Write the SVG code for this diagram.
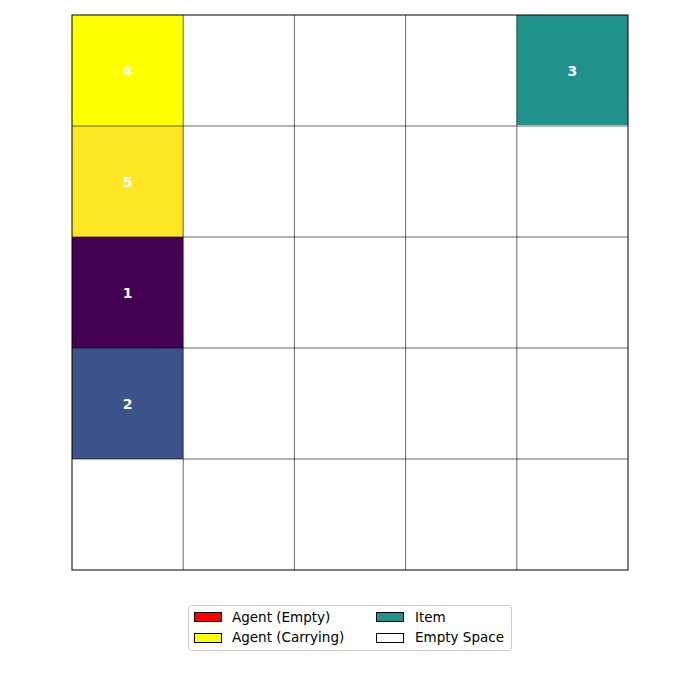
<svg xmlns="http://www.w3.org/2000/svg" width="700" height="700" viewBox="0 0 700 700">
<style>
.grid{stroke:#000;stroke-width:0.6;fill:none}
.lbl{font-family:"DejaVu Sans",sans-serif;font-size:14px;font-weight:bold;fill:#fff;text-anchor:middle;dominant-baseline:central}
.lg{font-family:"DejaVu Sans",sans-serif;font-size:13.5px;fill:#000}
.patch{stroke:#000;stroke-width:1}
</style>
<rect width="700" height="700" fill="#fff"/>
<g id="cell-4"><rect x="72" y="15" width="111.2" height="111" fill="#ffff00"/><text class="lbl" x="127.6" y="70.5">4</text></g>
<g id="cell-5"><rect x="72" y="126" width="111.2" height="111" fill="#fde725"/><text class="lbl" x="127.6" y="181.5">5</text></g>
<g id="cell-1"><rect x="72" y="237" width="111.2" height="111" fill="#440154"/><text class="lbl" x="127.6" y="292.5">1</text></g>
<g id="cell-2"><rect x="72" y="348" width="111.2" height="111" fill="#3b528b"/><text class="lbl" x="127.6" y="403.5">2</text></g>
<g id="cell-3"><rect x="516.8" y="15" width="111.2" height="110" fill="#21918c"/><text class="lbl" x="572.4" y="70.5">3</text></g>
<g id="grid">
<path class="grid" d="M183.2 15V570M294.4 15V570M405.6 15V570M516.8 15V570M72 126H628M72 237H628M72 348H628M72 459H628"/>
<rect x="72" y="15" width="556" height="555" fill="none" stroke="#000" stroke-width="1"/>
</g>
<g id="legend">
<rect x="188.5" y="605.5" width="323" height="45" rx="3" fill="#fff" stroke="#ccc" stroke-width="1"/>
<rect class="patch" x="194.5" y="612.5" width="27" height="9" fill="#ff0000"/>
<text class="lg" x="232" y="621.5">Agent (Empty)</text>
<rect class="patch" x="194.5" y="633.5" width="27" height="9" fill="#ffff00"/>
<text class="lg" x="232" y="642">Agent (Carrying)</text>
<rect class="patch" x="376.5" y="612.5" width="27" height="9" fill="#21918c"/>
<text class="lg" x="415" y="621.5">Item</text>
<rect class="patch" x="376.5" y="633.5" width="27" height="9" fill="#ffffff"/>
<text class="lg" x="415" y="642">Empty Space</text>
</g>
</svg>
